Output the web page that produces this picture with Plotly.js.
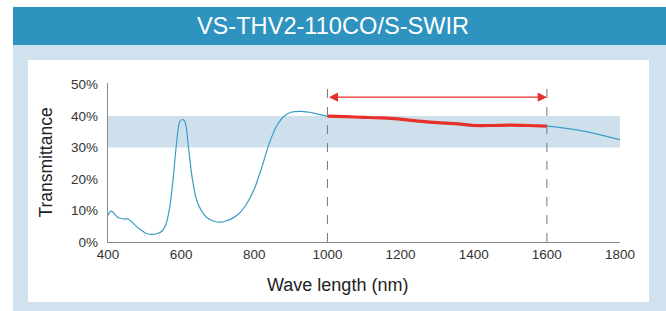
<!DOCTYPE html>
<html>
<head>
<meta charset="utf-8">
<script src="https://cdn.plot.ly/plotly-3.0.1.min.js"></script>
<style>
  html, body { margin:0; padding:0; width:666px; height:311px; overflow:hidden; background:#ffffff; }
  #bar { position:absolute; left:13px; top:7px; width:653px; height:38px; background:#2e93bf; }
  #frame { position:absolute; left:13px; top:45px; width:653px; height:266px; background:#d1e2ef; }
  #panel { position:absolute; left:28px; top:60px; width:621px; height:242px; background:#ffffff; }
  #chart { position:absolute; left:0; top:0; width:666px; height:311px; }
</style>
</head>
<body>
<div id="bar"></div>
<div id="frame"></div>
<div id="panel"></div>
<div id="chart"></div>
<script>
// Full transmittance curve (wavelength nm, transmittance %)
const wavelength = [400,405,410,420,430,445,455,465,475,490,505,520,535,548,558,568,578,588,596,604,611,620,630,642,655,670,690,705,720,740,760,780,800,820,840,860,880,900,930,960,1000,1100,1200,1300,1400,1500,1600,1700,1800];
const transmittance = [8.4,9.5,9.8,8.6,7.6,7.3,7.3,6.4,5.2,3.8,2.7,2.4,2.7,3.5,5.5,10.5,20,32,38.2,38.9,38,30,20.5,13.5,10,7.8,6.6,6.3,6.6,7.5,9.2,12.3,16.8,23.5,31.0,36.6,39.8,41.2,41.5,41,40.0,39.6,39.0,37.9,37.0,37.1,36.8,35.2,32.5];

// Highlighted SWIR range
const swirWavelength = [1000,1050,1100,1150,1200,1250,1300,1350,1400,1450,1500,1550,1600];
const swirTransmittance = [40.0,39.8,39.6,39.4,39.0,38.4,37.9,37.6,37.0,37.0,37.1,37.0,36.8];

const rangeStart = 1000, rangeEnd = 1600, arrowLevel = 46;
const bandLow = 30, bandHigh = 40;
const xTicks = [400,600,800,1000,1200,1400,1600,1800];
const yTicks = [0,10,20,30,40,50];
const yTickText = ['0%','10%','20%','30%','40%','50%'];

const traces = [
  { x: wavelength, y: transmittance, type:'scatter', mode:'lines',
    line:{color:'#3a9cc6', width:1.2, shape:'spline', smoothing:0.8}, hoverinfo:'skip' },
  { x: swirWavelength, y: swirTransmittance, type:'scatter', mode:'lines',
    line:{color:'#e8302a', width:3.2, shape:'spline', smoothing:0.6}, hoverinfo:'skip' }
];

const layout = {
  width:666, height:311,
  margin:{l:108, r:46, t:83, b:69},
  paper_bgcolor:'rgba(0,0,0,0)', plot_bgcolor:'rgba(0,0,0,0)',
  showlegend:false,
  title:{text:'VS-THV2-110CO/S-SWIR', font:{family:'Liberation Sans Narrow, Liberation Sans, Arial', size:23.6, color:'#ffffff'},
         xref:'container', x:0.5, xanchor:'center', yref:'container', y:1-26/311, yanchor:'middle'},
  font:{family:'Liberation Sans, Arial, sans-serif', color:'#333333'},
  xaxis:{range:[400,1800], tickvals:xTicks, ticktext:xTicks.map(String), showgrid:false, zeroline:false,
         showline:true, linecolor:'#8a8a8a', linewidth:1.2, ticks:'', tickfont:{size:13.5, color:'#333'}},
  yaxis:{range:[0,50.5], tickvals:yTicks, ticktext:yTickText, showgrid:false, zeroline:false,
         showline:true, linecolor:'#8a8a8a', linewidth:1.2, ticks:'', tickfont:{size:13.5, color:'#333'},
         ticklabelstandoff:6,
         title:{text:'Transmittance', font:{size:17.5, color:'#222'}, standoff:14}},
  shapes:[
    {type:'rect', xref:'x', yref:'y', x0:400, x1:1808, y0:bandLow, y1:bandHigh, fillcolor:'#cfe0ed', line:{width:0}, layer:'below'},
    {type:'line', xref:'x', yref:'y', x0:rangeStart, x1:rangeStart, y0:0, y1:50.6, line:{color:'#777', width:1, dash:'dash'}},
    {type:'line', xref:'x', yref:'y', x0:rangeEnd, x1:rangeEnd, y0:0, y1:50.6, line:{color:'#777', width:1, dash:'dash'}}
  ],
  annotations:[
    {x:rangeEnd, y:arrowLevel, ax:rangeStart, ay:arrowLevel, xref:'x', yref:'y', axref:'x', ayref:'y',
     text:'', showarrow:true, arrowhead:2, startarrowhead:2, arrowside:'end+start', arrowsize:1.3, arrowwidth:1.4, arrowcolor:'#e8302a'},
    {text:'Wave length (nm)', xref:'paper', yref:'paper', x:0.449, y:-0.27, xanchor:'center', yanchor:'middle',
     showarrow:false, font:{size:18, color:'#222'}}
  ]
};

Plotly.newPlot('chart', traces, layout, {displayModeBar:false, staticPlot:true});
</script>
</body>
</html>
